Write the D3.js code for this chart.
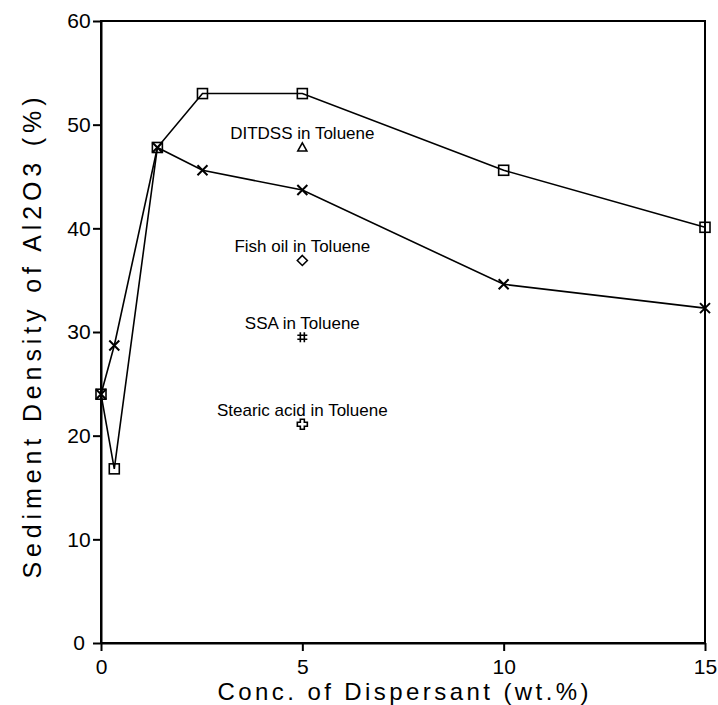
<!DOCTYPE html>
<html>
<head>
<meta charset="utf-8">
<script src="https://cdn.jsdelivr.net/npm/d3@7"></script>
<style>
body{margin:0;background:#fff;}
text{font-family:"Liberation Sans",Arial,sans-serif;fill:#000;}
.frame{fill:none;stroke:#000;stroke-width:2;}
.axis path,.axis line{stroke:#000;stroke-width:2;}
.axis text{font-size:21px;}
.series{fill:none;stroke:#000;stroke-width:1.6;}
.mark{fill:none;stroke:#000;stroke-width:1.6;}
.note{font-size:17px;text-anchor:middle;}
</style>
</head>
<body>
<div id="chart"></div>
<script>
var w=718;
var h=705;

// dispersant concentration (wt.%)
var conc=[0,0.33,1.4,2.52,5,10,15];
// square series
var densSquare=[24,16.8,47.8,53,53,45.6,40.1];
// x series
var densCross=[24,28.7,47.8,45.6,43.7,34.6,32.3];

// single points in toluene
var noteText=["DITDSS in Toluene","Fish oil in Toluene","SSA in Toluene","Stearic acid in Toluene"];
var noteX=[5,5,5,5];
var noteY=[47.8,36.9,29.5,21.1];
var noteShape=["triangle","diamond","hash","plus"];

var xTicks=[0,5,10,15];
var yTicks=[0,10,20,30,40,50,60];

var xScale=d3.scaleLinear().domain([0,15]).range([101,705]);
var yScale=d3.scaleLinear().domain([0,60]).range([643,21]);

var svgChart=d3.select("#chart").append("svg")
  .attr("width",w)
  .attr("height",h);

function drawAxes(){
  //frame
  svgChart.append("rect")
    .attr("class","frame")
    .attr("x",xScale(0)).attr("y",yScale(60))
    .attr("width",xScale(15)-xScale(0))
    .attr("height",yScale(0)-yScale(60));

  svgChart.append("g")
    .attr("class","axis")
    .attr("transform","translate(0,"+yScale(0)+")")
    .call(d3.axisBottom(xScale).tickValues(xTicks).tickSize(8).tickPadding(8).tickSizeOuter(0));

  var gy=svgChart.append("g")
    .attr("class","axis")
    .attr("transform","translate("+xScale(0)+",0)")
    .call(d3.axisLeft(yScale).tickValues(yTicks).tickSize(8).tickSizeOuter(0));
  // labels are centred, not right aligned
  gy.selectAll("text").attr("text-anchor","middle").attr("x",-22);

  svgChart.append("text")
    .attr("x",(xScale(0)+xScale(15))/2)
    .attr("y",700)
    .attr("text-anchor","middle")
    .attr("textLength",371)
    .attr("lengthAdjust","spacing")
    .style("font-size","24px")
    .text("Conc. of Dispersant (wt.%)");

  svgChart.append("text")
    .attr("transform","translate(41,338) rotate(-90)")
    .attr("text-anchor","middle")
    .attr("textLength",481)
    .attr("lengthAdjust","spacing")
    .style("font-size","25px")
    .text("Sediment Density of Al2O3 (%)");
}

function drawSeries(vals,shape){
  var line=d3.line()
    .x(function(d,i){return xScale(conc[i]);})
    .y(function(d){return yScale(d);});
  svgChart.append("path")
    .datum(vals)
    .attr("class","series")
    .attr("d",line);
  for(var i=0;i<vals.length;i++){
    drawMark(xScale(conc[i]),yScale(vals[i]),shape);
  }
}

function drawMark(cx,cy,shape){
  var g=svgChart.append("g").attr("transform","translate("+cx+","+cy+")");
  switch(shape){
    case "square":
      g.append("rect").attr("class","mark").attr("x",-5).attr("y",-5).attr("width",10).attr("height",10);
      break;
    case "x":
      g.append("path").attr("class","mark").style("stroke-width",2).attr("d","M-5,-5L5,5M-5,5L5,-5");
      break;
    case "triangle":
      g.append("path").attr("class","mark").attr("d","M0,-4.5L4.5,3.5L-4.5,3.5Z");
      break;
    case "diamond":
      g.append("path").attr("class","mark").attr("d","M0,-5L5,0L0,5L-5,0Z");
      break;
    case "hash":
      g.append("path").attr("class","mark").attr("d","M-2,-5V5M2,-5V5M-5,-2H5M-5,2H5");
      break;
    case "plus":
      g.append("path").attr("class","mark").attr("d","M-2,-5H2V-2H5V2H2V5H-2V2H-5V-2H-2Z");
      break;
  }
}

function drawNotes(){
  for(var i=0;i<noteText.length;i++){
    var px=xScale(noteX[i]);
    var py=yScale(noteY[i]);
    drawMark(px,py,noteShape[i]);
    svgChart.append("text")
      .attr("class","note")
      .attr("x",px)
      .attr("y",py-8)
      .text(noteText[i]);
  }
}

drawAxes();
drawSeries(densSquare,"square");
drawSeries(densCross,"x");
drawNotes();
</script>
</body>
</html>
